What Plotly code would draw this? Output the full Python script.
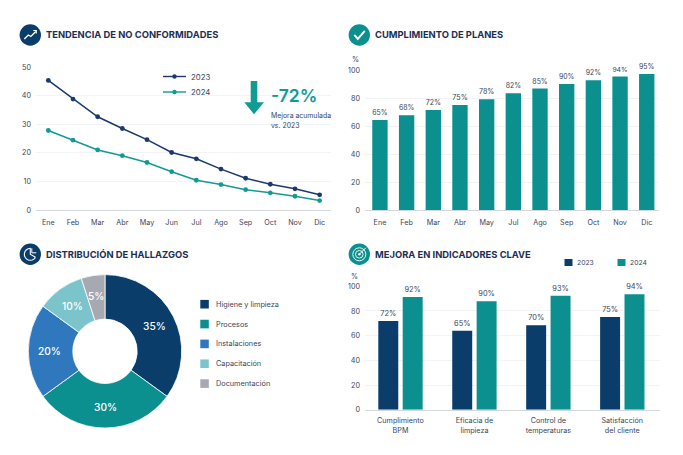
import math
import plotly.graph_objects as go

W, H = 683, 455

months = ["Ene", "Feb", "Mar", "Abr", "May", "Jun", "Jul", "Ago", "Sep", "Oct", "Nov", "Dic"]
nc_2023 = [45.3, 38.8, 32.6, 28.5, 24.6, 20.1, 17.9, 14.3, 11.1, 9.0, 7.4, 5.3]
nc_2024 = [27.8, 24.4, 21.0, 19.0, 16.6, 13.4, 10.4, 8.9, 7.1, 6.0, 4.8, 3.3]

plan_months = ["Ene", "Feb", "Mar", "Abr", "May", "Jul", "Ago", "Sep", "Oct", "Nov", "Dic"]
plan_values = [64.4, 67.8, 71.6, 75.2, 79.2, 83.5, 86.9, 90.2, 92.8, 95.5, 97.4]
plan_labels = ["65%", "68%", "72%", "75%", "78%", "82%", "85%", "90%", "92%", "94%", "95%"]

find_names = ["Higiene y limpieza", "Procesos", "Instalaciones", "Capacitación", "Documentación"]
find_values = [35, 30, 20, 10, 5]

kpi_names = ["Cumplimiento<br>BPM", "Eficacia de<br>limpieza", "Control de<br>temperaturas", "Satisfacción<br>del cliente"]
kpi_2023 = [71.9, 64.0, 68.4, 75.1]
kpi_2024 = [91.4, 87.8, 92.4, 93.5]
kpi_2023_labels = ["72%", "65%", "70%", "75%"]
kpi_2024_labels = ["92%", "90%", "93%", "94%"]

NAVY = "#0b3d6b"
LINE_NAVY = "#1b3a6b"
TEAL = "#0b8f8f"
LINE_TEAL = "#129a94"
BLUE = "#2f78bd"
LIGHT = "#7cc4cb"
GRAY = "#a6a9b0"
TITLE = "#1b2f55"
TEXT = "#3a4558"
GRID = "#f1f3f6"
AXIS = "#d3d8e0"
FONT = "Inter"
pie_colors = [NAVY, TEAL, BLUE, LIGHT, GRAY]


def fx(p):
    return p / W


def fy(p):
    return 1 - p / H


shapes, notes = [], []


def text(x, y, s, size=8.5, color=TEXT, anchor="left", weight=400):
    notes.append(dict(x=fx(x), y=fy(y), xref="paper", yref="paper", text=s,
                      showarrow=False, xanchor=anchor, yanchor="middle", align=anchor, borderpad=0,
                      font=dict(family=FONT, size=size, color=color, weight=weight)))


def px_path(points, close=False):
    d = "M " + " L ".join(f"{fx(a):.5f},{fy(b):.5f}" for a, b in points)
    return d + (" Z" if close else "")


def circle(cx, cy, r, fill=None, line=None, width=1):
    shapes.append(dict(type="circle", xref="paper", yref="paper", x0=fx(cx - r), x1=fx(cx + r),
                       y0=fy(cy + r), y1=fy(cy - r), fillcolor=fill or "rgba(0,0,0,0)",
                       line=dict(color=line or "rgba(0,0,0,0)", width=width if line else 0)))


def polyline(points, color="white", width=1.2, fill=None, close=False):
    shapes.append(dict(type="path", xref="paper", yref="paper", path=px_path(points, close),
                       fillcolor=fill or "rgba(0,0,0,0)",
                       line=dict(color=color, width=width)))


def rect(x0, y0, x1, y1, fill):
    shapes.append(dict(type="rect", xref="paper", yref="paper", x0=fx(x0), x1=fx(x1), y0=fy(y1), y1=fy(y0),
                       fillcolor=fill, line=dict(width=0)))


# Section headers
IC = [(30.3, 35), (359.3, 35), (30.3, 254.3), (359.3, 254.3)]
circle(*IC[0], 10.7, fill=NAVY)
circle(*IC[1], 10.7, fill=TEAL)
circle(*IC[2], 10.7, fill=NAVY)
circle(*IC[3], 10.7, fill=TEAL)
c = IC[0]
polyline([(c[0]-6, c[1]+4), (c[0]-2, c[1]), (c[0]+0.5, c[1]+1.5), (c[0]+5.5, c[1]-3.5)], width=1.3)
polyline([(c[0]+3, c[1]-4.5), (c[0]+6, c[1]-4.5), (c[0]+6, c[1]-1.5)], width=1.1)
c = IC[1]
polyline([(c[0]-5, c[1]), (c[0]-1.5, c[1]+4), (c[0]+5.5, c[1]-4)], width=1.9)
c = IC[2]
arc = [(c[0]+6*math.cos(math.radians(t)), c[1]+6*math.sin(math.radians(t))) for t in range(30, 290, 20)]
polyline(arc + [(c[0], c[1]), (c[0]+5.2, c[1]+3)], width=1.1)
polyline([(c[0]+1.5, c[1]-6), (c[0]+1.5, c[1]-1.5), (c[0]+6, c[1]-1.5)], width=1.0)
c = IC[3]
circle(c[0], c[1], 6.5, line="white", width=0.9)
circle(c[0], c[1], 3.8, line="white", width=0.9)
circle(c[0], c[1], 1.2, fill="white")
polyline([(c[0], c[1]), (c[0]+6.5, c[1]-6.5)], width=1.0)

text(45, 35, "TENDENCIA DE NO CONFORMIDADES", 9.4, TITLE, weight=700)
text(374, 35, "CUMPLIMIENTO DE PLANES", 9.4, TITLE, weight=700)
text(45, 254.3, "DISTRIBUCIÓN DE HALLAZGOS", 9.4, TITLE, weight=700)
text(374, 254.3, "MEJORA EN INDICADORES CLAVE", 9.4, TITLE, weight=700)

# Line chart legend
for y, col, name in [(76.5, LINE_NAVY, "2023"), (92, LINE_TEAL, "2024")]:
    polyline([(163, y), (186, y)], color=col, width=1.4)
    circle(174.5, y, 2.2, fill=col)
    text(189.5, y, name, 7.8)

# Improvement callout
polyline([(250.7, 81), (257.3, 81), (257.3, 102.3), (264, 102.3), (254, 114.3), (244.3, 102.3), (250.7, 102.3)],
         color=LINE_TEAL, width=0, fill=LINE_TEAL, close=True)
text(269.5, 95, "-72%", 17.5, LINE_TEAL, weight=600)
text(269.5, 115, "Mejora acumulada", 6.9)
text(269.5, 125.5, "vs. 2023", 6.9)

# Axis units
text(355, 59.5, "%", 7.2, anchor="center")
text(354.7, 276.5, "%", 7.2, anchor="center")

# Pie legend
for i, (name, col) in enumerate(zip(find_names, pie_colors)):
    y = 304.2 + i * 19.85
    rect(200.3, y - 4.3, 208.8, y + 4.3, col)
    text(214.5, y, name, 7.3)

# KPI legend
rect(564.5, 259, 572.5, 266, NAVY)
text(576, 262.5, "2023", 6.8)
rect(617.5, 259, 625.5, 266, TEAL)
text(629, 262.5, "2024", 6.8)

# Donut labels, placed on the ring from the slice values
PIE_X, PIE_Y, PIE_R = 105, 351.3, 76.7
cum = 0
for v in find_values:
    ang = math.radians((cum + v / 2) / sum(find_values) * 360)
    cum += v
    text(PIE_X + 56 * math.sin(ang), PIE_Y - 56 * math.cos(ang), f"{v}%", 10.2, "white", anchor="center", weight=500)

fig = go.Figure()
fig.add_trace(go.Scatter(x=months, y=nc_2023, name="2023", mode="lines+markers", xaxis="x", yaxis="y",
                         line=dict(color=LINE_NAVY, width=1.5), marker=dict(size=4.8, color=LINE_NAVY)))
fig.add_trace(go.Scatter(x=months, y=nc_2024, name="2024", mode="lines+markers", xaxis="x", yaxis="y",
                         line=dict(color=LINE_TEAL, width=1.5), marker=dict(size=4.8, color=LINE_TEAL)))
fig.add_trace(go.Bar(x=plan_months, y=plan_values, text=plan_labels, textposition="outside", cliponaxis=False,
                     marker=dict(color=TEAL, line=dict(width=0)), xaxis="x2", yaxis="y2",
                     width=0.575, textfont=dict(family=FONT, size=7.4, color=TEXT)))
fig.add_trace(go.Pie(labels=find_names, values=find_values, hole=0.42, sort=False, direction="clockwise",
                     rotation=0, textinfo="none",
                     marker=dict(colors=pie_colors, line=dict(color="white", width=0.8)),
                     domain=dict(x=[fx(PIE_X - PIE_R), fx(PIE_X + PIE_R)], y=[fy(PIE_Y + PIE_R), fy(PIE_Y - PIE_R)])))
fig.add_trace(go.Bar(x=kpi_names, y=kpi_2023, name="2023", text=kpi_2023_labels, textposition="outside",
                     cliponaxis=False, marker=dict(color=NAVY, line=dict(width=0)), xaxis="x3", yaxis="y3",
                     width=0.27, offset=-0.3, textfont=dict(family=FONT, size=7.4, color=TEXT)))
fig.add_trace(go.Bar(x=kpi_names, y=kpi_2024, name="2024", text=kpi_2024_labels, textposition="outside",
                     cliponaxis=False, marker=dict(color=TEAL, line=dict(width=0)), xaxis="x3", yaxis="y3",
                     width=0.27, offset=0.03, textfont=dict(family=FONT, size=7.4, color=TEXT)))

tick = dict(family=FONT, size=7.2, color=TEXT)


def xax(l, r, yref, rng, standoff=5):
    return dict(domain=[fx(l), fx(r)], anchor=yref, range=rng, type="category", showgrid=False, showline=True,
                linecolor=AXIS, linewidth=1, ticks="", tickfont=tick, fixedrange=True, automargin=False,
                ticklabelstandoff=standoff)


def yax(top, bottom, xref, rng, dtick):
    return dict(domain=[fy(bottom), fy(top)], anchor=xref, range=rng, dtick=dtick, showgrid=True, gridcolor=GRID,
                gridwidth=1, showline=False, zeroline=False, ticks="", tickfont=tick, fixedrange=True,
                automargin=False, ticklabelstandoff=4)


fig.update_layout(
    width=W, height=H, margin=dict(l=0, r=0, t=0, b=0), paper_bgcolor="white", plot_bgcolor="white",
    showlegend=False, barmode="overlay", font=dict(family=FONT), shapes=shapes, annotations=notes,
    xaxis=xax(36, 331, "y", [-0.5, 11.46]),
    yaxis=yax(67, 210, "x", [0, 50], 10),
    xaxis2=xax(365, 659, "y2", [-0.56, 10.46]),
    yaxis2=yax(70.3, 210, "x2", [0, 100], 20),
    xaxis3=xax(365, 660, "y3", [-0.48, 3.51], standoff=4),
    yaxis3=yax(286.3, 409.7, "x3", [0, 100], 20),
)
fig.write_html("out.html", post_script="document.body.style.margin='0';", config=dict(displayModeBar=False))
